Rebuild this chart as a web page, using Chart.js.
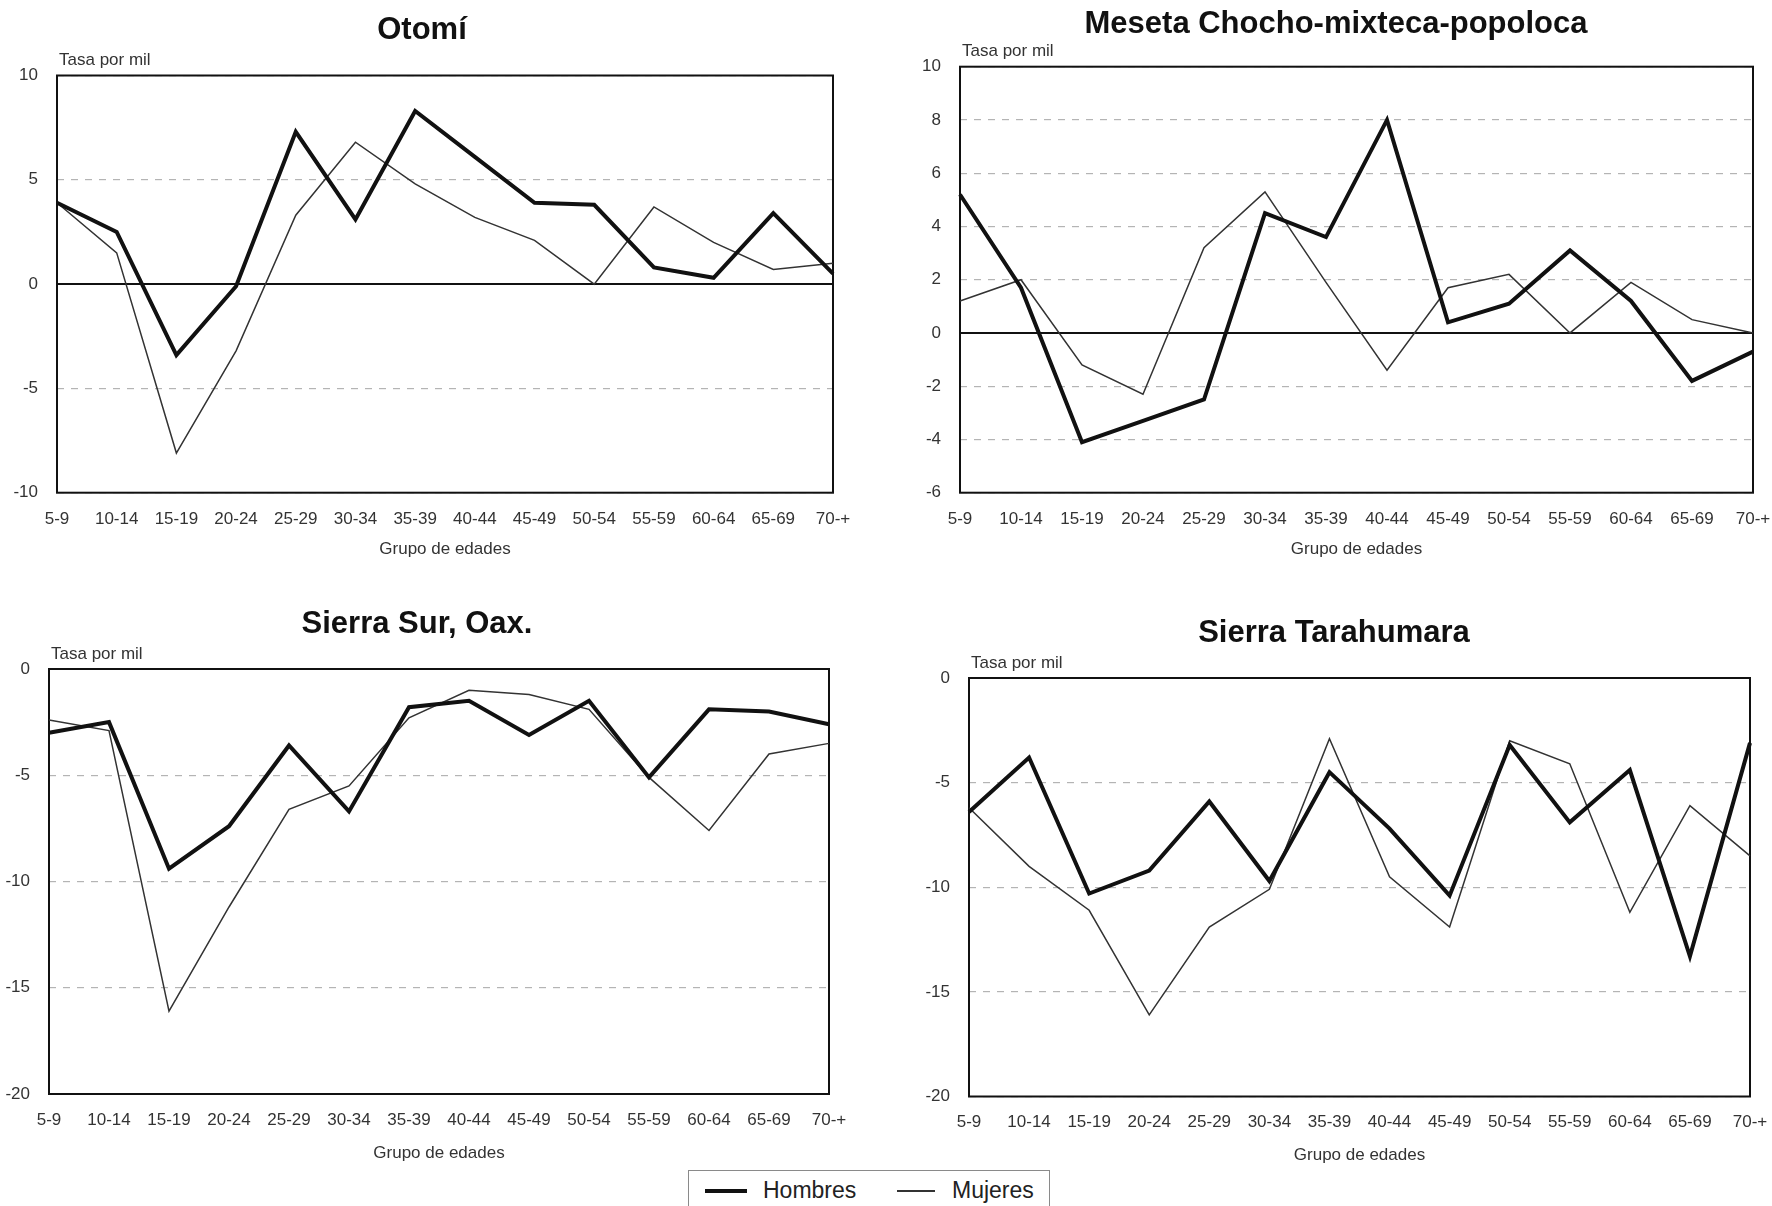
<!DOCTYPE html>
<html lang="es">
<head>
<meta charset="utf-8">
<title>Tasa por mil por grupo de edades</title>
<script src="https://cdn.jsdelivr.net/npm/chart.js@4.4.1/dist/chart.umd.min.js"></script>
<style>
  html, body { margin: 0; padding: 0; background: #fff; }
  #page { position: relative; width: 1772px; height: 1206px; overflow: hidden; font-family: "Liberation Sans", Arial, sans-serif; }
  .panel { position: absolute; }
  #leyenda { position: absolute; left: 688px; top: 1170px; width: 362px; height: 50px; border: 1px solid #8a8a8a; box-sizing: border-box; color: #222; }
  #leyenda span { position: absolute; }
  .muestra { background: #111; }
  .rotulo { font-size: 23px; line-height: 28px; }
</style>
</head>
<body>
<div id="page">
  <canvas id="otomi" class="panel"></canvas>
  <canvas id="meseta" class="panel"></canvas>
  <canvas id="sierraSur" class="panel"></canvas>
  <canvas id="tarahumara" class="panel"></canvas>
  <div id="leyenda">
    <span class="muestra" style="left:16px; top:18px; width:42px; height:4px;"></span>
    <span class="rotulo" style="left:74px; top:5px;">Hombres</span>
    <span class="muestra" style="left:208px; top:19px; width:38px; height:1.5px; background:#333;"></span>
    <span class="rotulo" style="left:263px; top:5px;">Mujeres</span>
  </div>
</div>
<script>
const edades = ['5-9', '10-14', '15-19', '20-24', '25-29', '30-34', '35-39', '40-44', '45-49', '50-54', '55-59', '60-64', '65-69', '70-+'];

const otomiHombres = [3.9, 2.5, -3.4, -0.1, 7.3, 3.1, 8.3, 6.1, 3.9, 3.8, 0.8, 0.3, 3.4, 0.5];
const otomiMujeres = [3.9, 1.5, -8.1, -3.2, 3.3, 6.8, 4.8, 3.2, 2.1, 0.0, 3.7, 2.0, 0.7, 1.0];
const otomiTicks = [-10, -5, 0, 5, 10];

const mesetaHombres = [5.2, 1.7, -4.1, -3.3, -2.5, 4.5, 3.6, 8.0, 0.4, 1.1, 3.1, 1.2, -1.8, -0.7];
const mesetaMujeres = [1.2, 2.0, -1.2, -2.3, 3.2, 5.3, 1.9, -1.4, 1.7, 2.2, 0.0, 1.9, 0.5, 0.0];
const mesetaTicks = [-6, -4, -2, 0, 2, 4, 6, 8, 10];

const sierraSurHombres = [-3.0, -2.5, -9.4, -7.4, -3.6, -6.7, -1.8, -1.5, -3.1, -1.5, -5.1, -1.9, -2.0, -2.6];
const sierraSurMujeres = [-2.4, -2.9, -16.1, -11.2, -6.6, -5.5, -2.3, -1.0, -1.2, -1.9, -5.1, -7.6, -4.0, -3.5];
const sierraSurTicks = [-20, -15, -10, -5, 0];

const tarahumaraHombres = [-6.4, -3.8, -10.3, -9.2, -5.9, -9.7, -4.5, -7.2, -10.4, -3.2, -6.9, -4.4, -13.3, -3.1];
const tarahumaraMujeres = [-6.2, -9.0, -11.1, -16.1, -11.9, -10.1, -2.9, -9.5, -11.9, -3.0, -4.1, -11.2, -6.1, -8.5];
const tarahumaraTicks = [-20, -15, -10, -5, 0];

const FUENTE = '"Liberation Sans", Arial, sans-serif';

// marco negro del area de trazado + rotulo "Tasa por mil"
const marco = {
  id: 'marco',
  beforeDatasetsDraw(chart) {
    const { ctx, chartArea: a } = chart;
    ctx.save();
    ctx.strokeStyle = '#111';
    ctx.lineWidth = 2;
    ctx.strokeRect(a.left, a.top, a.right - a.left, a.bottom - a.top);
    ctx.restore();
  },
  afterDraw(chart, args, opts) {
    const { ctx, chartArea: a } = chart;
    ctx.save();
    ctx.font = '17px ' + FUENTE;
    ctx.fillStyle = '#333';
    ctx.textBaseline = 'middle';
    ctx.fillText(opts.texto, a.left + 2, a.top - 15);
    ctx.restore();
  }
};

function panel(p) {
  const canvas = document.getElementById(p.id);
  canvas.width = p.w;
  canvas.height = p.h;
  canvas.style.left = p.x0 + 'px';
  canvas.style.top = p.y0 + 'px';

  const padLeft = 2 * p.tituloX - p.right - p.x0;
  const padRight = p.x0 + p.w - p.right;
  const anchoY = p.left - p.x0 - padLeft;
  const tituloTop = p.tituloY - p.y0 - 18.6;
  const tituloBottom = p.top - p.y0 - tituloTop - 37.2;
  const altoX = p.y0 + p.h - p.bottom;
  const grupoBottom = p.y0 + p.h - p.grupoY - 10.2;

  new Chart(canvas, {
    type: 'line',
    data: {
      labels: edades,
      datasets: [
        { label: 'Hombres', data: p.hombres, borderColor: '#111', borderWidth: 4, pointRadius: 0, tension: 0 },
        { label: 'Mujeres', data: p.mujeres, borderColor: '#333', borderWidth: 1.5, pointRadius: 0, tension: 0 }
      ]
    },
    options: {
      responsive: false,
      animation: false,
      events: [],
      layout: { padding: { left: padLeft, right: padRight, top: 0, bottom: 0 } },
      scales: {
        x: {
          afterFit: s => { s.height = altoX; },
          grid: { display: false },
          border: { display: false },
          ticks: { color: '#333', padding: 8, maxRotation: 0, autoSkip: false, font: { family: FUENTE, size: 17 } },
          title: { display: true, text: 'Grupo de edades', color: '#333', padding: { top: 0, bottom: grupoBottom }, font: { family: FUENTE, size: 17 } }
        },
        y: {
          min: p.ticks[0],
          max: p.ticks[p.ticks.length - 1],
          afterFit: s => { s.width = anchoY; },
          ticks: { stepSize: p.ticks[1] - p.ticks[0], color: '#333', padding: 19, font: { family: FUENTE, size: 17 } },
          grid: {
            drawTicks: false,
            color: c => c.tick && c.tick.value === 0 ? '#111' : '#b4b4b4',
            lineWidth: c => c.tick && c.tick.value === 0 ? 2 : 1.2
          },
          border: { display: false, dash: c => c.tick && c.tick.value === 0 ? [] : [7, 7] }
        }
      },
      plugins: {
        legend: { display: false },
        tooltip: { enabled: false },
        title: {
          display: true,
          text: p.titulo,
          color: '#111',
          font: { family: FUENTE, size: 31, weight: 'bold' },
          padding: { top: tituloTop, bottom: tituloBottom }
        },
        marco: { texto: 'Tasa por mil' }
      }
    },
    plugins: [marco]
  });
}

panel({ id: 'otomi', titulo: 'Otomí', hombres: otomiHombres, mujeres: otomiMujeres, ticks: otomiTicks,
  x0: 0, y0: 0, w: 880, h: 575, left: 57, right: 833, top: 75.5, bottom: 492.7, tituloX: 422, tituloY: 30, grupoY: 549 });
panel({ id: 'meseta', titulo: 'Meseta Chocho-mixteca-popoloca', hombres: mesetaHombres, mujeres: mesetaMujeres, ticks: mesetaTicks,
  x0: 900, y0: 0, w: 885, h: 575, left: 960, right: 1753, top: 66.7, bottom: 492.7, tituloX: 1336, tituloY: 24, grupoY: 549 });
panel({ id: 'sierraSur', titulo: 'Sierra Sur, Oax.', hombres: sierraSurHombres, mujeres: sierraSurMujeres, ticks: sierraSurTicks,
  x0: 0, y0: 580, w: 880, h: 590, left: 49, right: 829, top: 669, bottom: 1094, tituloX: 417, tituloY: 624, grupoY: 1153 });
panel({ id: 'tarahumara', titulo: 'Sierra Tarahumara', hombres: tarahumaraHombres, mujeres: tarahumaraMujeres, ticks: tarahumaraTicks,
  x0: 900, y0: 580, w: 882, h: 590, left: 969, right: 1750, top: 678, bottom: 1096.5, tituloX: 1334, tituloY: 633, grupoY: 1155 });
</script>
</body>
</html>
